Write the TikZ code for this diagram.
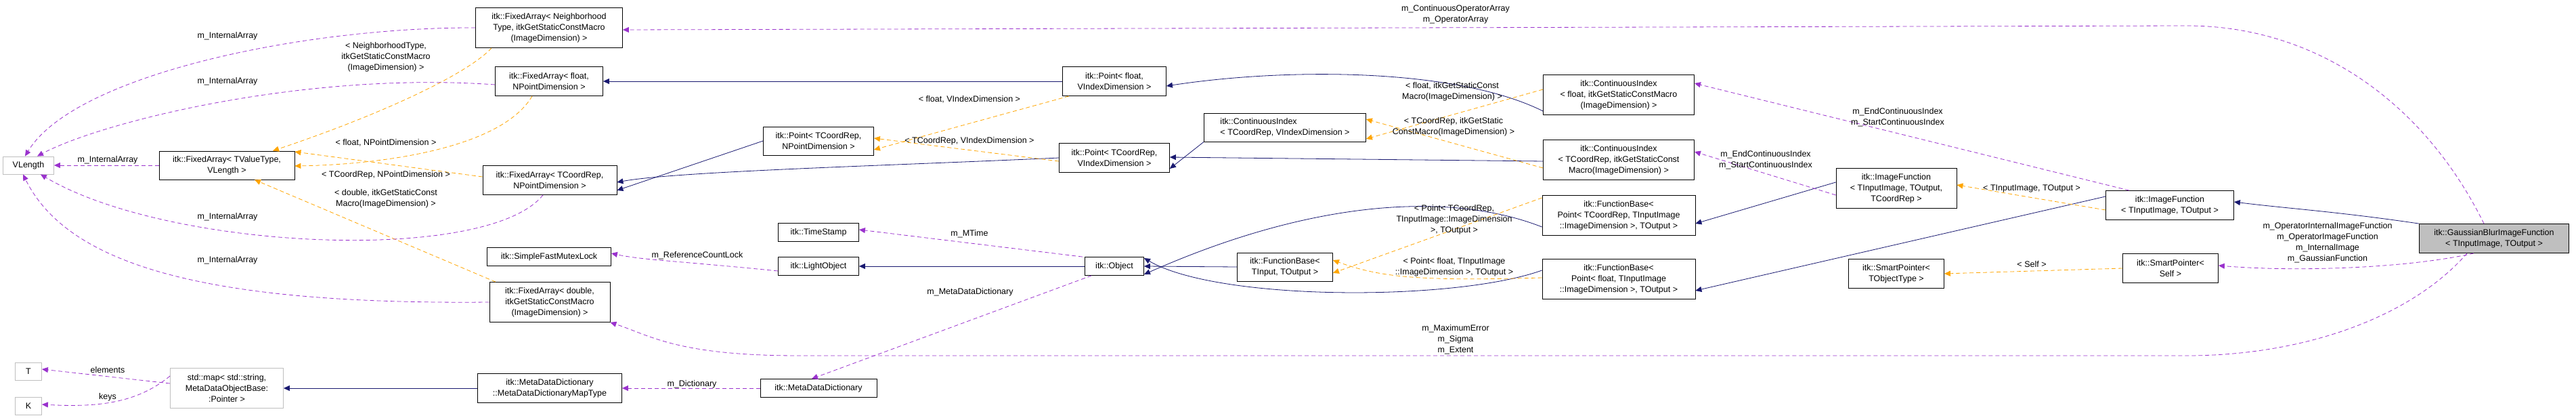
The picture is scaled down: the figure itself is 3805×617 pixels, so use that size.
\documentclass[tikz,border=0pt]{standalone}
\usepackage{fontspec}
\setmainfont{Liberation Sans}
\usepackage{tikz}
\usetikzlibrary{arrows.meta}
\definecolor{inhcol}{HTML}{191970}
\definecolor{tplcol}{HTML}{FFA500}
\definecolor{usecol}{HTML}{9A32CD}
\tikzset{
  cls/.style={draw=black, fill=white, thick, align=center, inner sep=1pt, font=\fontsize{12.5}{16}\selectfont},
  ext/.style={cls, draw=black!25},
  lbl/.style={align=center, inner sep=0pt, font=\fontsize{12.5}{16}\selectfont},
  inh/.style={draw=inhcol, thick, -{Triangle[length=9pt,width=8pt]}},
  tpl/.style={draw=tplcol, thick, dashed, dash pattern=on 6pt off 4pt, -{Triangle[length=9pt,width=8pt]}},
  use/.style={draw=usecol, thick, dash pattern=on 6pt off 4pt, -{Triangle[length=9pt,width=8pt]}}
}
\begin{document}
\begin{tikzpicture}[x=1pt,y=-1pt]
\useasboundingbox (0,0) rectangle (3805,617);

% classes
\node[ext, minimum width=75, minimum height=26] (vl) at (42,244) {VLength};
\node[ext, minimum width=39, minimum height=26] (t) at (42,548) {T};
\node[ext, minimum width=39, minimum height=26] (k) at (42,599) {K};
\node[cls, minimum width=200, minimum height=42] (fatv) at (335,244) {itk::FixedArray< TValueType,\\VLength >};
\node[ext, minimum width=167, minimum height=59] (map) at (335,573) {std::map< std::string,\\MetaDataObjectBase:\\:Pointer >};
\node[cls, minimum width=217, minimum height=59] (fanb) at (811,41) {itk::FixedArray< Neighborhood\\Type, itkGetStaticConstMacro\\(ImageDimension) >};
\node[cls, minimum width=159, minimum height=43] (fafn) at (811,120) {itk::FixedArray< float,\\NPointDimension >};
\node[cls, minimum width=198, minimum height=43] (facn) at (812,266) {itk::FixedArray< TCoordRep,\\NPointDimension >};
\node[cls, minimum width=183, minimum height=27] (sfml) at (811,379) {itk::SimpleFastMutexLock};
\node[cls, minimum width=178, minimum height=59] (fad) at (812,446) {itk::FixedArray< double,\\itkGetStaticConstMacro\\(ImageDimension) >};
\node[cls, minimum width=213, minimum height=43] (mdmt) at (812,573) {itk::MetaDataDictionary\\::MetaDataDictionaryMapType};
\node[cls, minimum width=163, minimum height=42] (ptn) at (1209,208) {itk::Point< TCoordRep,\\NPointDimension >};
\node[cls, minimum width=119, minimum height=27] (ts) at (1209,343) {itk::TimeStamp};
\node[cls, minimum width=119, minimum height=27] (lo) at (1209,393) {itk::LightObject};
\node[cls, minimum width=172, minimum height=27] (mdd) at (1209,573) {itk::MetaDataDictionary};
\node[cls, minimum width=153, minimum height=43] (pfv) at (1646,120) {itk::Point< float,\\VIndexDimension >};
\node[cls, minimum width=163, minimum height=43] (ptv) at (1646,233) {itk::Point< TCoordRep,\\VIndexDimension >};
\node[cls, minimum width=87, minimum height=27] (obj) at (1646,393) {itk::Object};
\node[cls, minimum width=239, minimum height=42, align=left] (civ) at (1898,188) {itk::ContinuousIndex\\< TCoordRep, VIndexDimension >};
\node[cls, minimum width=141, minimum height=42] (fbt) at (1898,394) {itk::FunctionBase<\\TInput, TOutput >};
\node[cls, minimum width=223, minimum height=59] (cif) at (2391,140) {itk::ContinuousIndex\\< float, itkGetStaticConstMacro\\(ImageDimension) >};
\node[cls, minimum width=223, minimum height=59] (cit) at (2391,236) {itk::ContinuousIndex\\< TCoordRep, itkGetStaticConst\\Macro(ImageDimension) >};
\node[cls, minimum width=226, minimum height=59] (fbpc) at (2391,318) {itk::FunctionBase<\\Point< TCoordRep, TInputImage\\::ImageDimension >, TOutput >};
\node[cls, minimum width=226, minimum height=59] (fbpf) at (2391,412) {itk::FunctionBase<\\Point< float, TInputImage\\::ImageDimension >, TOutput >};
\node[cls, minimum width=178, minimum height=59] (if3) at (2801,278) {itk::ImageFunction\\< TInputImage, TOutput,\\TCoordRep >};
\node[cls, minimum width=141, minimum height=43] (spt) at (2801,404) {itk::SmartPointer<\\TObjectType >};
\node[cls, minimum width=189, minimum height=43] (if2) at (3205,303) {itk::ImageFunction\\< TInputImage, TOutput >};
\node[cls, minimum width=141, minimum height=43] (sps) at (3206,396) {itk::SmartPointer<\\Self >};
\node[cls, fill=black!25, minimum width=221, minimum height=43] (gb) at (3684,352) {itk::GaussianBlurImageFunction\\< TInputImage, TOutput >};

% inheritance
\draw[inh] (pfv.west) -- (fafn.east);
\draw[inh] (ptn.west) -- ([yshift=-15]facn.east);
\draw[inh] (ptv.west) .. controls (1300,245) and (1000,253) .. ([yshift=-3]facn.east);
\draw[inh] ([yshift=-24]cif.west) .. controls (2150,100) and (1900,100) .. ([yshift=-7]pfv.east);
\draw[inh] (civ.south west) -- ([yshift=-16]ptv.east);
\draw[inh] ([yshift=-2]cit.west) -- ([yshift=1]ptv.east);
\draw[inh] (obj.west) -- (lo.east);
\draw[inh] (fbt.west) -- (obj.east);
\draw[inh] ([yshift=-17]fbpc.west) .. controls (2150,285) and (1950,290) .. ([yshift=-12]obj.east);
\draw[inh] ([yshift=13]fbpf.west) .. controls (2150,445) and (1800,445) .. ([yshift=12]obj.east);
\draw[inh] ([yshift=9]if3.west) -- ([yshift=-12]fbpc.east);
\draw[inh] ([yshift=13]if2.west) -- ([yshift=-17]fbpf.east);
\draw[inh] (gb.north west) .. controls (3450,312) and (3380,308) .. ([yshift=5]if2.east);
\draw[inh] (mdmt.west) -- (map.east);

% template instances
\draw[tpl] ([xshift=-85]fanb.south) .. controls (690,110) and (560,170) .. ([xshift=68]fatv.north);
\draw[tpl] ([xshift=-25]fafn.south) .. controls (740,220) and (560,243) .. ([yshift=-1]fatv.east);
\draw[tpl] ([yshift=5]facn.west) -- ([yshift=20]fatv.east);
\draw[tpl] ([xshift=-80]fad.north) -- ([xshift=41]fatv.south);
\draw[tpl] ([xshift=-67]pfv.south) -- ([yshift=-13]ptn.east);
\draw[tpl] ([yshift=-5]ptv.west) -- ([yshift=4]ptn.east);
\draw[tpl] ([yshift=8]cif.west) -- ([yshift=-17]civ.east);
\draw[tpl] ([yshift=-12]cit.west) -- ([yshift=12]civ.east);
\draw[tpl] ([yshift=26]fbpc.west) -- ([yshift=-9]fbt.east);
\draw[tpl] ([yshift=2]fbpf.west) .. controls (2100,415) and (2040,410) .. ([yshift=10]fbt.east);
\draw[tpl] ([yshift=-7]if2.west) -- ([yshift=5]if3.east);
\draw[tpl] (sps.west) -- (spt.east);

% members
\draw[use] (fanb.west) .. controls (450,40) and (110,110) .. ([xshift=-5]vl.north);
\draw[use] ([yshift=-5]fafn.west) .. controls (450,105) and (150,180) .. ([xshift=13]vl.north);
\draw[use] (fatv.west) -- (vl.east);
\draw[use] ([xshift=-10]facn.south) .. controls (720,390) and (250,370) .. ([xshift=-20]vl.south east);
\draw[use] (fad.west) .. controls (300,450) and (100,390) .. ([xshift=-8]vl.south);
\draw[use] ([yshift=7]map.west) -- ([yshift=3]t.east);
\draw[use] ([yshift=18]map.west) .. controls (200,597) and (140,601) .. ([yshift=2]k.east);
\draw[use] (mdd.west) -- (mdmt.east);
\draw[use] ([yshift=-7]lo.west) .. controls (1000,385) and (950,384) .. ([yshift=5]sfml.east);
\draw[use] ([xshift=-3]obj.north west) -- ([yshift=4]ts.east);
\draw[use] ([xshift=10]obj.south west) -- ([xshift=-10]mdd.north);
\draw[use] ([xshift=-15]gb.north) .. controls (3580,150) and (3420,38) .. (3230,38) -- ([yshift=-3]fanb.east);
\draw[use] ([xshift=-40]gb.south) .. controls (3560,470) and (3400,525) .. (3230,525) -- (1180,525) .. controls (1000,525) and (960,495) .. (fad.south east);
\draw[use] ([xshift=-30]gb.south) .. controls (3560,395) and (3400,402) .. ([yshift=4]sps.east);
\draw[use] ([xshift=-60]if2.north) -- ([yshift=17]cif.east);
\draw[use] ([yshift=-10]if3.west) -- ([yshift=12]cit.east);

% labels
\node[lbl] (l1) at (336,53) {m\_InternalArray};
\node[lbl] (l2) at (336,120) {m\_InternalArray};
\node[lbl] (l3) at (159,236) {m\_InternalArray};
\node[lbl] (l4) at (336,320) {m\_InternalArray};
\node[lbl] (l5) at (336,384) {m\_InternalArray};
\node[lbl] (l6) at (159,546) {elements};
\node[lbl] (l7) at (159,586) {keys};
\node[lbl] (l8) at (1022,567) {m\_Dictionary};
\node[lbl] (l9) at (1030,377) {m\_ReferenceCountLock};
\node[lbl] (l10) at (1432,345) {m\_MTime};
\node[lbl] (l11) at (1433,431) {m\_MetaDataDictionary};
\node[lbl] (l12) at (2150,21) {m\_ContinuousOperatorArray\\m\_OperatorArray};
\node[lbl] (l13) at (2803,173) {m\_EndContinuousIndex\\m\_StartContinuousIndex};
\node[lbl] (l14) at (2608,236) {m\_EndContinuousIndex\\m\_StartContinuousIndex};
\node[lbl] (l15) at (3438,358) {m\_OperatorInternalImageFunction\\m\_OperatorImageFunction\\m\_InternalImage\\m\_GaussianFunction};
\node[lbl] (l16) at (2150,501) {m\_MaximumError\\m\_Sigma\\m\_Extent};
\node[lbl] (l17) at (570,84) {< NeighborhoodType,\\itkGetStaticConstMacro\\(ImageDimension) >};
\node[lbl] (l18) at (570,211) {< float, NPointDimension >};
\node[lbl] (l19) at (570,258) {< TCoordRep, NPointDimension >};
\node[lbl] (l20) at (570,293) {< double, itkGetStaticConst\\Macro(ImageDimension) >};
\node[lbl] (l21) at (1432,147) {< float, VIndexDimension >};
\node[lbl] (l22) at (1432,208) {< TCoordRep, VIndexDimension >};
\node[lbl] (l23) at (2145,135) {< float, itkGetStaticConst\\Macro(ImageDimension) >};
\node[lbl] (l24) at (2147,187) {< TCoordRep, itkGetStatic\\ConstMacro(ImageDimension) >};
\node[lbl] (l25) at (2148,324) {< Point< TCoordRep,\\TInputImage::ImageDimension\\>, TOutput >};
\node[lbl] (l26) at (2148,394) {< Point< float, TInputImage\\::ImageDimension >, TOutput >};
\node[lbl] (l27) at (3001,278) {< TInputImage, TOutput >};
\node[lbl] (l28) at (3001,390) {< Self >};
\end{tikzpicture}
\end{document}
